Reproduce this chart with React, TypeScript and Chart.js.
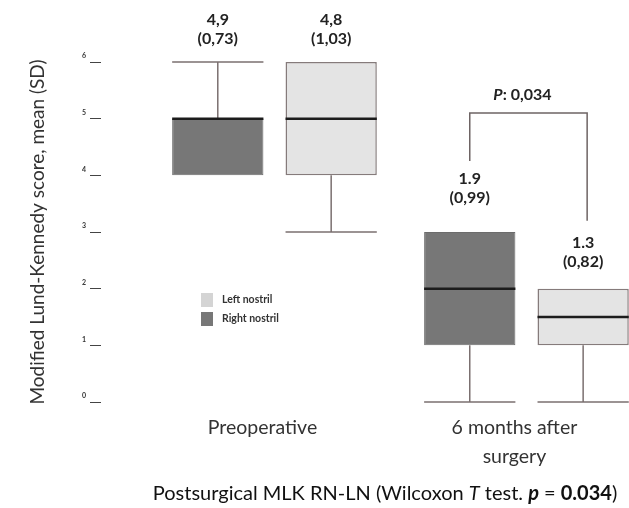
import React, { useEffect, useRef } from "react";
import { Chart, registerables } from "chart.js";

Chart.register(...registerables);

// ---- data ----
const categories: string[][] = [["Preoperative"], ["6 months after", "surgery"]];
const seriesNames = ["Right nostril", "Left nostril"];

const rightMin = [4, 0];
const rightQ1 = [4, 1];
const rightMedian = [5, 2];
const rightQ3 = [5, 3];
const rightMax = [6, 3];

const leftMin = [3, 0];
const leftQ1 = [4, 1];
const leftMedian = [5, 1.5];
const leftQ3 = [6, 2];
const leftMax = [6, 2];

const rightMeanText = ["4,9", "1.9"];
const rightSdText = ["(0,73)", "(0,99)"];
const leftMeanText = ["4,8", "1.3"];
const leftSdText = ["(1,03)", "(0,82)"];

const yTicks = [0, 1, 2, 3, 4, 5, 6];
const pValueText = "0,034";
const bracketLevel = 5.1;
const yTitle = "Modified Lund-Kennedy score, mean (SD)";

// ---- style ----
const FONT = "Lato, 'Open Sans', sans-serif";
const darkFill = "#777777";
const lightFill = "#e4e4e4";
const lightBorder = "#857b7b";
const whiskerColor = "#7b7070";
const medianColor = "#1c1c1c";
const textColor = "#222222";
const labelLift = [
  [0, 11],
  [0, 4],
];

const stats = [
  { min: rightMin, q1: rightQ1, med: rightMedian, q3: rightQ3, max: rightMax, mean: rightMeanText, sd: rightSdText },
  { min: leftMin, q1: leftQ1, med: leftMedian, q3: leftQ3, max: leftMax, mean: leftMeanText, sd: leftSdText },
];

const boxPlugin = {
  id: "boxExtras",
  afterDatasetsDraw(chart: any) {
    const ctx = chart.ctx as CanvasRenderingContext2D;
    const ys = chart.scales.y;
    const labelLine1: number[][] = [[], []];
    const centers: number[][] = [[], []];
    stats.forEach((s, d) => {
      const meta = chart.getDatasetMeta(d);
      meta.data.forEach((el: any, i: number) => {
        const x = el.x;
        const w = el.width;
        const x0 = x - w / 2;
        const x1 = x + w / 2;
        centers[d][i] = x;
        ctx.save();
        ctx.strokeStyle = whiskerColor;
        ctx.lineWidth = 1.5;
        const yq3 = ys.getPixelForValue(s.q3[i]);
        const yq1 = ys.getPixelForValue(s.q1[i]);
        if (s.max[i] > s.q3[i]) {
          const ym = ys.getPixelForValue(s.max[i]);
          ctx.beginPath();
          ctx.moveTo(x, yq3);
          ctx.lineTo(x, ym);
          ctx.moveTo(x0, ym);
          ctx.lineTo(x1, ym);
          ctx.stroke();
        }
        if (s.min[i] < s.q1[i]) {
          const ym = ys.getPixelForValue(s.min[i]);
          ctx.beginPath();
          ctx.moveTo(x, yq1);
          ctx.lineTo(x, ym);
          ctx.moveTo(x0, ym);
          ctx.lineTo(x1, ym);
          ctx.stroke();
        }
        // median
        const ymed = ys.getPixelForValue(s.med[i]);
        ctx.strokeStyle = medianColor;
        ctx.lineWidth = 2.5;
        ctx.beginPath();
        ctx.moveTo(x0, ymed);
        ctx.lineTo(x1, ymed);
        ctx.stroke();
        // labels
        const top = ys.getPixelForValue(Math.max(s.q3[i], s.max[i]));
        const l2 = top - 23 - labelLift[d][i];
        const l1 = l2 - 19;
        labelLine1[d][i] = l1;
        ctx.fillStyle = textColor;
        ctx.font = `bold 16px ${FONT}`;
        ctx.textAlign = "center";
        ctx.textBaseline = "middle";
        ctx.fillText(s.mean[i], x, l1);
        ctx.fillText(s.sd[i], x, l2);
        ctx.restore();
      });
    });

    // bracket between post-surgery boxes
    const bx0 = centers[0][1];
    const bx1 = centers[1][1] + 4;
    const by = ys.getPixelForValue(bracketLevel);
    ctx.save();
    ctx.strokeStyle = "#6e6464";
    ctx.lineWidth = 1.5;
    ctx.beginPath();
    ctx.moveTo(bx0, labelLine1[0][1] - 18);
    ctx.lineTo(bx0, by);
    ctx.lineTo(bx1, by);
    ctx.lineTo(bx1, labelLine1[1][1] - 22);
    ctx.stroke();
    ctx.fillStyle = textColor;
    ctx.textBaseline = "middle";
    ctx.textAlign = "left";
    ctx.font = `italic bold 16px ${FONT}`;
    const pW = ctx.measureText("P").width;
    ctx.font = `bold 16px ${FONT}`;
    const restText = ": " + pValueText;
    const rW = ctx.measureText(restText).width;
    const startX = (bx0 + bx1) / 2 - 6 - (pW + rW) / 2;
    ctx.font = `italic bold 16px ${FONT}`;
    ctx.fillText("P", startX, by - 18);
    ctx.font = `bold 16px ${FONT}`;
    ctx.fillText(restText, startX + pW, by - 18);
    ctx.restore();
  },
  afterDraw(chart: any) {
    const ctx = chart.ctx as CanvasRenderingContext2D;
    const ca = chart.chartArea;
    ctx.save();
    // y title
    ctx.fillStyle = "#333333";
    ctx.font = `19px ${FONT}`;
    ctx.textAlign = "center";
    ctx.textBaseline = "middle";
    ctx.translate(38, (ca.top + ca.bottom) / 2);
    ctx.rotate(-Math.PI / 2);
    ctx.fillText(yTitle, 0, 0);
    ctx.restore();

    // legend
    ctx.save();
    const order = [1, 0];
    order.forEach((d, k) => {
      const ly = 300 + k * 19;
      ctx.fillStyle = d === 0 ? darkFill : "#d4d4d4";
      ctx.fillRect(201, ly - 7, 12, 14);
      ctx.fillStyle = "#333333";
      ctx.font = `bold 10.5px ${FONT}`;
      ctx.textAlign = "left";
      ctx.textBaseline = "middle";
      ctx.fillText(seriesNames[d], 222, ly);
    });
    ctx.restore();

    // bottom title with mixed styles
    ctx.save();
    const segs = [
      { t: "Postsurgical MLK RN-LN (Wilcoxon ", f: "" },
      { t: "T", f: "italic " },
      { t: " test. ", f: "" },
      { t: "p", f: "italic bold " },
      { t: " = ", f: "" },
      { t: "0.034", f: "bold " },
      { t: ")", f: "" },
    ];
    const size = 20;
    let total = 0;
    segs.forEach((s) => {
      ctx.font = `${s.f}${size}px ${FONT}`;
      total += ctx.measureText(s.t).width;
    });
    let x = 385 - total / 2;
    ctx.fillStyle = "#111111";
    ctx.textBaseline = "middle";
    ctx.textAlign = "left";
    segs.forEach((s) => {
      ctx.font = `${s.f}${size}px ${FONT}`;
      ctx.fillText(s.t, x, 494);
      x += ctx.measureText(s.t).width;
    });
    ctx.restore();
  },
};

export default function App() {
  const ref = useRef<HTMLCanvasElement | null>(null);
  useEffect(() => {
    if (!ref.current) return;
    const chart = new Chart(ref.current, {
      type: "bar",
      data: {
        datasets: [
          {
            label: seriesNames[0],
            data: categories.map((_, i) => ({ x: i, y: [rightQ1[i], rightQ3[i]] })) as any,
            backgroundColor: darkFill,
            borderColor: "#6c6c6c",
            borderWidth: 1,
            borderSkipped: false,
          },
          {
            label: seriesNames[1],
            data: categories.map((_, i) => ({ x: i, y: [leftQ1[i], leftQ3[i]] })) as any,
            backgroundColor: lightFill,
            borderColor: lightBorder,
            borderWidth: 1.5,
            borderSkipped: false,
          },
        ],
      },
      options: {
        animation: false,
        responsive: true,
        maintainAspectRatio: false,
        layout: { padding: { top: 62, right: 0, left: 0, bottom: 0 } },
        plugins: { legend: { display: false }, tooltip: { enabled: false } },
        datasets: { bar: { categoryPercentage: 0.9, barPercentage: 0.805, grouped: true } },
        scales: {
          x: {
            type: "linear",
            offset: false,
            min: -0.6885,
            max: 1.407,
            afterBuildTicks: (scale: any) => {
              scale.ticks = categories.map((_, i) => ({ value: i }));
            },
            afterFit: (scale: any) => {
              scale.height = 106;
            },
            grid: { display: false, drawTicks: false },
            border: { display: false },
            ticks: {
              padding: 11,
              labelOffset: -12,
              color: "#333333",
              font: { family: FONT, size: 19.5, lineHeight: 1.5 },
              callback: (v: any) => categories[Math.round(v)] ?? "",
            },
          },
          y: {
            type: "linear",
            min: 0,
            max: 6,
            afterBuildTicks: (scale: any) => {
              scale.ticks = yTicks.map((v) => ({ value: v }));
            },
            afterFit: (scale: any) => {
              scale.width = 101;
            },
            border: { display: false },
            grid: { drawOnChartArea: false, drawTicks: true, tickLength: 11, color: "#444444", lineWidth: 1 },
            ticks: {
              padding: 4,
              labelOffset: -6,
              color: "#333333",
              font: { family: FONT, size: 7, weight: "bold" },
            },
          },
        },
      },
      plugins: [boxPlugin],
    });
    return () => chart.destroy();
  }, []);
  return (
    <div style={{ position: "fixed", left: 0, top: 0, width: 629, height: 508, background: "#fff" }}>
      <canvas ref={ref} />
    </div>
  );
}
